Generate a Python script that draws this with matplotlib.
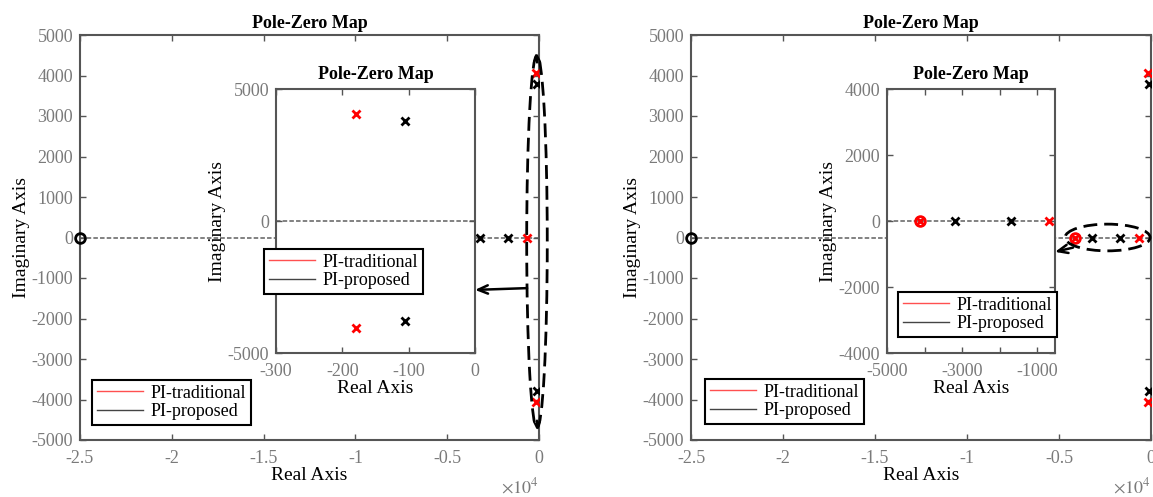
import matplotlib
matplotlib.use("Agg")
from matplotlib import pyplot as plt
from matplotlib.lines import Line2D
from matplotlib.patches import Ellipse
from matplotlib.ticker import FuncFormatter
import numpy as np

plt.rcParams['font.family'] = ['Liberation Serif', 'DejaVu Serif']
plt.rcParams['mathtext.fontset'] = 'stix'
plt.rcParams['axes.unicode_minus'] = False

# pole / zero locations
# case (a): left figure
prop_a_poles_re = [-106, -106, -3200, -1680]
prop_a_poles_im = [3780, -3780, 0, 0]
prop_a_zeros_re = [-25000]
prop_a_zeros_im = [0]
trad_a_poles_re = [-180, -180, -665]
trad_a_poles_im = [4050, -4050, 0]
trad_a_zeros_re = []
trad_a_zeros_im = []

# case (b): right figure
prop_b_poles_re = [-106, -106, -3200, -1700]
prop_b_poles_im = [3780, -3780, 0, 0]
prop_b_zeros_re = [-25000]
prop_b_zeros_im = [0]
trad_b_poles_re = [-180, -180, -670, -4120]
trad_b_poles_im = [4050, -4050, 0, 0]
trad_b_zeros_re = [-4120]
trad_b_zeros_im = [0]

main_xticks = [-25000, -20000, -15000, -10000, -5000, 0]
main_yticks = [-5000, -4000, -3000, -2000, -1000, 0, 1000, 2000, 3000, 4000, 5000]
inset_a_xticks = [-300, -200, -100, 0]
inset_a_yticks = [-5000, 0, 5000]
inset_b_xticks = [-5000, -3000, -1000]
inset_b_xminor = [-4000, -2000]
inset_b_yticks = [-4000, -2000, 0, 2000, 4000]

labels = ['PI-traditional', 'PI-proposed']

GREY = '#7a7a7a'
SPINE = '#555555'
FS = 13

W, H = 1153, 497
fig = plt.figure(figsize=(W / 100, H / 100), dpi=100)


def add_ax(l, t, r, b):
    return fig.add_axes([l / W, 1 - b / H, (r - l) / W, (b - t) / H])


def style(ax):
    for s in ax.spines.values():
        s.set_color(SPINE)
        s.set_linewidth(1.5)
    ax.tick_params(direction='in', top=True, right=True, length=4, width=1,
                   color=SPINE, labelcolor=GREY, labelsize=FS)
    ax.tick_params(axis='x', pad=7)
    ax.tick_params(axis='y', pad=5)
    ax.tick_params(which='minor', direction='in', top=True, right=True,
                   length=4, width=1, color=SPINE)
    ax.set_facecolor('white')


def draw_pz(ax, pr, pi, zr, zi, color, zclip=True):
    ax.plot(pr, pi, 'x', color=color, ms=6, mew=2, zorder=5)
    if len(zr):
        ax.plot(zr, zi, 'o', color=color, mfc='none', ms=7, mew=2, zorder=5,
                clip_on=zclip)


def legend(ax, x, y):
    h = [Line2D([], [], color='#ff5050', lw=1), Line2D([], [], color='#444444', lw=1)]
    lg = ax.legend(h, labels, loc='upper left', bbox_to_anchor=(x / W, 1 - y / H),
                   bbox_transform=fig.transFigure, borderaxespad=0, fontsize=FS,
                   fancybox=False, framealpha=1, edgecolor='k', handlelength=2.6,
                   handletextpad=0.4, labelspacing=0.1, borderpad=0.25)
    lg.get_frame().set_linewidth(1.5)
    lg.set_zorder(20)


def main_axes(ax, pa, ta):
    ax.axhline(0, color='#777777', ls=(0, (2.5, 1.2)), lw=1.3, zorder=1)
    draw_pz(ax, *ta, color='red', zclip=False)
    draw_pz(ax, *pa, color='black', zclip=False)
    ax.set_xlim(-25000, 0)
    ax.set_ylim(-5000, 5000)
    ax.set_xticks(main_xticks)
    ax.set_yticks(main_yticks)
    ax.xaxis.set_major_formatter(FuncFormatter(lambda v, p: '%g' % (v / 1e4)))
    ax.set_xlabel('Real Axis', fontsize=14, labelpad=0)
    ax.set_ylabel('Imaginary Axis', fontsize=14, labelpad=1)
    ax.set_title('Pole-Zero Map', fontsize=13, fontweight='bold', pad=5)
    ax.text(1.0, -0.115, r'$\times 10^4$', transform=ax.transAxes, ha='right',
            va='center', fontsize=FS, color=GREY)
    style(ax)


def inset_axes(ax, pa, ta, xlim, ylim):
    ax.axhline(0, color='#777777', ls=(0, (2.5, 1.2)), lw=1.3, zorder=1)
    draw_pz(ax, *ta, color='red')
    draw_pz(ax, *pa, color='black')
    ax.set_xlim(*xlim)
    ax.set_ylim(*ylim)
    ax.set_xlabel('Real Axis', fontsize=14, labelpad=0)
    ax.set_ylabel('Imaginary Axis', fontsize=14, labelpad=1)
    ax.set_title('Pole-Zero Map', fontsize=13, fontweight='bold', pad=7)
    style(ax)
    ax.set_zorder(10)


pa = (prop_a_poles_re, prop_a_poles_im, prop_a_zeros_re, prop_a_zeros_im)
ta = (trad_a_poles_re, trad_a_poles_im, trad_a_zeros_re, trad_a_zeros_im)
pb = (prop_b_poles_re, prop_b_poles_im, prop_b_zeros_re, prop_b_zeros_im)
tb = (trad_b_poles_re, trad_b_poles_im, trad_b_zeros_re, trad_b_zeros_im)

# ---- left figure
ax1 = add_ax(80, 35, 539, 440)
main_axes(ax1, pa, ta)
legend(ax1, 92, 380)
ell = Ellipse((-110, -100), 1120, 9200, fill=False, ec='k', lw=2,
              ls=(0, (5, 2.5)), clip_on=False, zorder=6)
ax1.add_patch(ell)
for yy, d in [(4500, 1), (-4700, -1)]:
    ax1.annotate('', xy=(-110, yy + d * 120), xytext=(-110, yy - d * 250),
                 arrowprops=dict(arrowstyle='->,head_length=0.4,head_width=0.2',
                                 lw=1.5, color='k'), annotation_clip=False)

in1 = add_ax(276, 89, 475, 353)
inset_axes(in1, pa, ta, (-300, 0), (-5000, 5000))
in1.set_xticks(inset_a_xticks)
in1.set_yticks(inset_a_yticks)
legend(in1, 264, 249)
ax1.annotate('', xy=(1.0, 0.239), xycoords=in1.transAxes, xytext=(-650, -1250),
             textcoords='data',
             arrowprops=dict(arrowstyle='->,head_length=0.7,head_width=0.3',
                             lw=1.8, color='k', shrinkA=0, shrinkB=0),
             zorder=12)

# ---- right figure
ax2 = add_ax(691, 35, 1151, 440)
main_axes(ax2, pb, tb)
legend(ax2, 705, 379)
ell2 = Ellipse((-2360, 0), 4620, 660, fill=False, ec='k', lw=2,
               ls=(0, (5, 2.5)), clip_on=False, zorder=6)
ax2.add_patch(ell2)

in2 = add_ax(887, 89, 1055, 353)
inset_axes(in2, pb, tb, (-5000, -520), (-4000, 4000))
in2.set_xticks(inset_b_xticks)
in2.set_xticks(inset_b_xminor, minor=True)
in2.set_yticks(inset_b_yticks)
legend(in2, 898, 292)
ax2.annotate('', xy=(1.0, 0.383), xycoords=in2.transAxes, xytext=(-4240, -250),
             textcoords='data',
             arrowprops=dict(arrowstyle='->,head_length=0.7,head_width=0.3',
                             lw=1.8, color='k', shrinkA=0, shrinkB=0),
             zorder=12)

fig.savefig('out.png', dpi=100)
